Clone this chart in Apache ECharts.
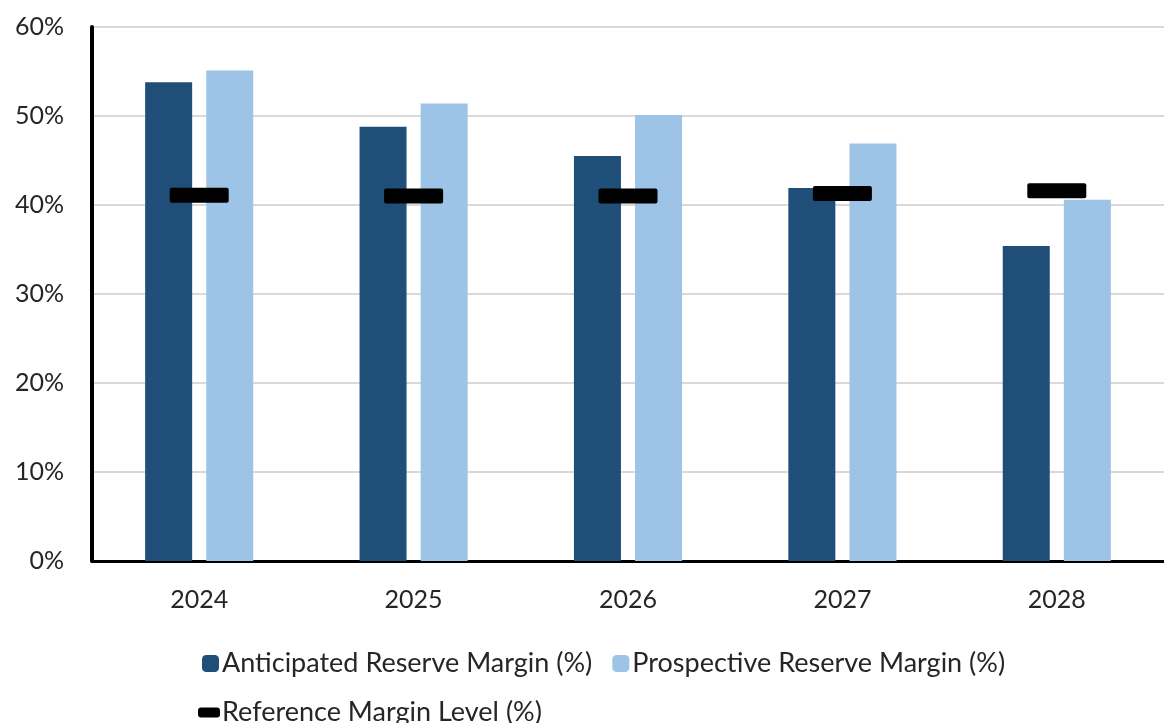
<!DOCTYPE html>
<html>
<head>
<meta charset="utf-8">
<style>
html,body{margin:0;padding:0;background:#fff;}
#chart{width:1164px;height:723px;}
</style>
<script src="https://cdn.jsdelivr.net/npm/echarts@6/dist/echarts.min.js"></script>
</head>
<body>
<div id="chart"></div>
<script>
const categories = ['2024', '2025', '2026', '2027', '2028'];
const anticipated = [53.8, 48.8, 45.5, 41.9, 35.4];
const prospective = [55.1, 51.4, 50.1, 46.9, 40.6];
const reference = [41.1, 41.0, 41.0, 41.3, 41.6];
const yTicks = [0, 10, 20, 30, 40, 50, 60];

const FONT = 'Lato';
const MARK = 'path://M2,0 H57 Q59,0 59,2 V13 Q59,15 57,15 H2 Q0,15 0,13 V2 Q0,0 2,0 Z';
const chart = echarts.init(document.getElementById('chart'));
chart.setOption({
  animation: false,
  backgroundColor: '#ffffff',
  grid: {left: 92, right: -2, top: 27, bottom: 162, containLabel: false},
  legend: [
    {
      data: ['Anticipated Reserve Margin (%)', 'Prospective Reserve Margin (%)'],
      left: 197, top: 645,
      itemWidth: 17, itemHeight: 17, itemGap: 20,
      textStyle: {fontFamily: FONT, fontSize: 27, color: '#262626', padding: [0, 0, 0, -2]}
    },
    {
      data: [{name: 'Reference Margin Level (%)', icon: 'path://M3,0 H19 Q22,0 22,3 V7 Q22,10 19,10 H3 Q0,10 0,7 V3 Q0,0 3,0 Z'}],
      left: 193, top: 694,
      itemWidth: 22, itemHeight: 10,
      textStyle: {fontFamily: FONT, fontSize: 27, color: '#262626', padding: [0, 0, 0, -3]}
    }
  ],
  xAxis: {
    type: 'category',
    data: categories,
    axisLine: {lineStyle: {color: '#000', width: 3}},
    axisTick: {show: false},
    axisLabel: {fontFamily: FONT, fontSize: 25, color: '#262626', margin: 26}
  },
  yAxis: {
    type: 'value',
    min: 0, max: 60, interval: 10,
    axisLine: {show: true, lineStyle: {color: '#000', width: 4}},
    axisTick: {show: false},
    splitLine: {lineStyle: {color: '#d9d9d9', width: 2}},
    axisLabel: {
      fontFamily: FONT, fontSize: 25, color: '#262626', margin: 28,
      formatter: v => yTicks.includes(v) ? v + '%' : ''
    }
  },
  series: [
    {
      name: 'Anticipated Reserve Margin (%)',
      type: 'bar',
      data: anticipated,
      barWidth: 47,
      barGap: '30%',
      itemStyle: {color: '#1F4E79'}
    },
    {
      name: 'Prospective Reserve Margin (%)',
      type: 'bar',
      data: prospective,
      barWidth: 47,
      itemStyle: {color: '#9DC3E6'}
    },
    {
      name: 'Reference Margin Level (%)',
      type: 'scatter',
      data: reference,
      symbol: MARK,
      symbolSize: [59, 15],
      symbolKeepAspect: false,
      itemStyle: {color: '#000', opacity: 1},
      z: 5
    }
  ]
});
</script>
</body>
</html>
